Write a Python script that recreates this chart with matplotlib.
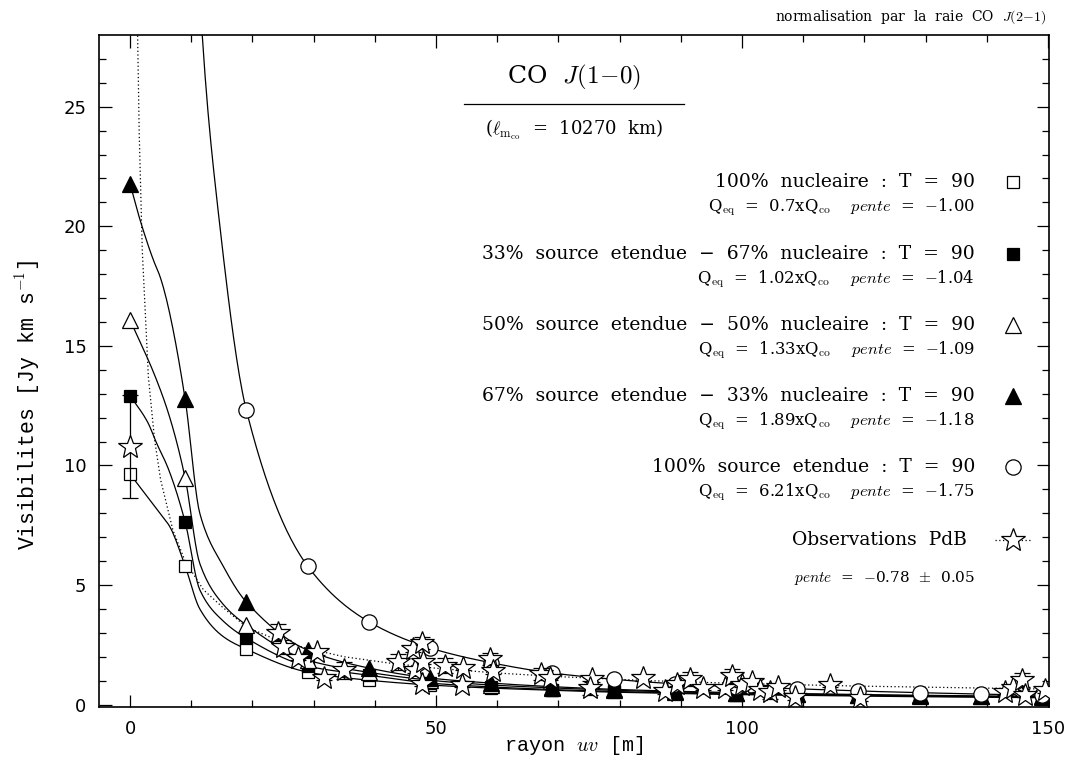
import numpy as np
import matplotlib.pyplot as plt

plt.rcParams['font.family'] = ['DejaVu Serif']
plt.rcParams['mathtext.fontset'] = 'cm'

# model points (markers), rayon uv in m, visibilities in Jy km/s
x_mod = [0, 9, 19, 29, 39, 49, 59, 69, 79, 89, 99, 109, 119, 129, 139, 149]
y_nuc100 = [9.64, 5.80, 2.32, 1.36, 1.02, 0.82, 0.69, 0.60, 0.52, 0.47, 0.42, 0.39, 0.36, 0.33, 0.31, 0.29]
y_ext33 = [12.92, 7.64, 2.78, 1.61, 1.23, 0.90, 0.74, 0.63, 0.55, 0.49, 0.44, 0.41, 0.38, 0.35, 0.33, 0.31]
y_ext50 = [16.09, 9.48, 3.33, 1.86, 1.35, 1.02, 0.82, 0.70, 0.60, 0.53, 0.48, 0.44, 0.40, 0.37, 0.34, 0.32]
y_ext67 = [21.78, 12.78, 4.29, 2.28, 1.53, 1.11, 0.90, 0.75, 0.64, 0.56, 0.50, 0.46, 0.42, 0.39, 0.36, 0.34]
x_ext100 = [9, 19, 29, 39, 49, 59, 69, 79, 89, 99, 109, 119, 129, 139, 149]
y_ext100 = [46.5, 12.32, 5.80, 3.47, 2.37, 1.75, 1.32, 1.06, 0.87, 0.75, 0.66, 0.57, 0.50, 0.44, 0.39]

# extra points (between markers)
cx_nuc100 = [4.9, 6.5, 11.4, 15.2]
cy_nuc100 = [8.0, 7.44, 4.0, 2.85]
cx_ext33 = [2.9, 4.4, 6.2, 11.4, 15.2]
cy_ext33 = [11.8, 10.9, 9.9, 4.8, 3.5]
cx_ext50 = [4.3, 6.5, 11.4, 15.2]
cy_ext50 = [13.6, 12.0, 5.9, 4.2]
cx_ext67 = [1.6, 3.8, 4.9, 6.0, 11.4, 15.2]
cy_ext67 = [20.3, 18.6, 17.9, 16.9, 8.0, 5.8]
cx_ext100 = [11.8, 14.2]
cy_ext100 = [28.0, 21.1]

# PdB observations
obs_x = [0, 24.2, 25.0, 27.5, 30.5, 31.7, 35.0, 43.8, 46.2, 47.7, 46.6, 47.9, 47.7, 51.5,
         54.4, 54.2, 58.8, 59.3, 67.2, 68.6, 75.5, 75.2, 83.8, 87.4, 89.4, 91.5, 93.6,
         97.2, 98.4, 100.0, 101.6, 103.0, 104.6, 105.9, 108.7, 114.4, 119.3, 143.0,
         144.3, 145.8, 146.3, 149.5]
obs_y = [10.78, 3.0, 2.4, 1.95, 2.18, 1.12, 1.44, 1.78, 2.32, 2.57, 1.44, 1.78, 0.86, 1.63,
         1.55, 0.84, 1.90, 1.40, 1.28, 1.13, 1.06, 0.69, 1.10, 0.56, 0.86, 1.06, 0.69,
         0.69, 1.20, 0.82, 0.94, 0.61, 0.52, 0.73, 0.31, 0.82, 0.27, 0.52,
         0.69, 1.03, 0.40, 0.60]
obs_err = [2.15, 0.35, 0.3, 0.1, 0.1, 0.1, 0.35, 0.35, 0.1, 0.25, 0.1, 0.1, 0.1, 0.3,
           0.1, 0.1, 0.25, 0.1, 0.25, 0.1, 0.1, 0.3, 0.1, 0.1, 0.1, 0.3, 0.1,
           0.1, 0.3, 0.1, 0.1, 0.1, 0.3, 0.1, 0.1, 0.1, 0.1, 0.1,
           0.1, 0.3, 0.1, 0.1]

# fitted power law (pente = -0.78)
fit_x = [1.2, 1.5, 2, 3, 4, 5, 7, 9, 12, 15, 19, 24, 29, 35, 42, 50, 60, 70, 85, 100, 120, 150]
fit_y = [28.6, 23.9, 19.0, 13.7, 11.1, 9.4, 7.3, 6.0, 4.8, 4.1, 3.25, 2.7, 2.35, 2.0, 1.75,
         1.52, 1.32, 1.17, 1.0, 0.88, 0.77, 0.65]


def smooth(x, y, n=600):
    # monotone cubic (pchip) through the points, for drawing only
    order = np.argsort(x)
    x = np.asarray(x, float)[order]
    y = np.asarray(y, float)[order]
    h = np.diff(x)
    d = np.diff(y) / h
    m = np.zeros_like(y)
    m[0], m[-1] = d[0], d[-1]
    for k in range(1, len(x) - 1):
        if d[k - 1] * d[k] > 0:
            w1 = 2 * h[k] + h[k - 1]
            w2 = h[k] + 2 * h[k - 1]
            m[k] = (w1 + w2) / (w1 / d[k - 1] + w2 / d[k])
    xs = np.linspace(x[0], x[-1], n)
    i = np.clip(np.searchsorted(x, xs) - 1, 0, len(h) - 1)
    t = (xs - x[i]) / h[i]
    ys = ((2 * t**3 - 3 * t**2 + 1) * y[i] + (t**3 - 2 * t**2 + t) * h[i] * m[i]
          + (-2 * t**3 + 3 * t**2) * y[i + 1] + (t**3 - t**2) * h[i] * m[i + 1])
    return xs, ys


W, H = 1073, 758
fig = plt.figure(figsize=(W / 100, H / 100), dpi=100)
ax = fig.add_axes([99 / W, 1 - 707 / H, 950 / W, 672 / H])


def fx(px, py):
    return px / W, 1 - py / H


models = [
    (x_mod, y_nuc100, cx_nuc100, cy_nuc100, 's', 'white', 9),
    (x_mod, y_ext33, cx_ext33, cy_ext33, 's', 'black', 9),
    (x_mod, y_ext50, cx_ext50, cy_ext50, '^', 'white', 11),
    (x_mod, y_ext67, cx_ext67, cy_ext67, '^', 'black', 11),
    (x_ext100, y_ext100, cx_ext100, cy_ext100, 'o', 'white', 11),
]
for xm, ym, cx, cy, mk, fc, ms in models:
    xs, ys = smooth(list(xm) + cx, list(ym) + cy)
    ax.plot(xs, ys, color='black', lw=0.9, zorder=2)
    ax.plot(xm, ym, ls='none', marker=mk, ms=ms, mfc=fc, mec='black', mew=0.9, zorder=3)

ax.plot(fit_x, fit_y, color='black', lw=0.9, ls=(0, (1, 2)), zorder=2)
ax.errorbar(obs_x, obs_y, yerr=obs_err, fmt='none', ecolor='black', elinewidth=0.9,
            capsize=6, capthick=0.9, zorder=4)
ax.plot(obs_x, obs_y, ls='none', marker='*', ms=18, mfc='white', mec='black', mew=0.9, zorder=5)

ax.set_xlim(-5.07, 150.16)
ax.set_ylim(-0.1, 28.0)
ax.set_xticks([0, 50, 100, 150])
ax.set_xticks(np.arange(0, 151, 10), minor=True)
ax.set_yticks([0, 5, 10, 15, 20, 25])
ax.set_yticks(np.arange(0, 28, 1), minor=True)
ax.tick_params(which='both', direction='in', top=True, right=True, width=0.9,
               labelsize=13, labelfontfamily='DejaVu Sans', pad=9)
ax.tick_params(which='major', length=9)
ax.tick_params(which='minor', length=5)
for s in ax.spines.values():
    s.set_linewidth(1.2)

ax.set_xlabel(r'rayon $uv$ [m]', fontsize=14.5, family='Liberation Mono', va='center')
ax.xaxis.set_label_coords(0.5, -0.057)
ax.set_ylabel(r'Visibilites [Jy km s$^{-1}$]', fontsize=15.5, family='Liberation Mono', va='center')
ax.yaxis.set_label_coords(-0.075, 0.45)

# title block
fig.text(*fx(574, 77), r'CO  $J(1\!-\!0)$', fontsize=18, ha='center', va='center')
fig.add_artist(plt.Line2D([464 / W, 684 / W], [1 - 104 / H, 1 - 104 / H], color='black', lw=0.9))
fig.text(*fx(574, 130), r'($\ell_{\rm m_{co}}$  =  10270  km)', fontsize=13, ha='center', va='center')
fig.text(*fx(1047, 17), r'normalisation  par  la  raie  CO  $J(2\!-\!1)$', fontsize=10,
         ha='right', va='center')

# legend block
entries = [
    ('100%  nucleaire  :  T  =  90', r'Q$_{\rm eq}$  =  0.7xQ$_{\rm co}$    $pente$  =  $-$1.00', 's', 'white', 9, 182),
    ('33%  source  etendue  \u2212  67%  nucleaire  :  T  =  90', r'Q$_{\rm eq}$  =  1.02xQ$_{\rm co}$    $pente$  =  $-$1.04', 's', 'black', 9, 254),
    ('50%  source  etendue  \u2212  50%  nucleaire  :  T  =  90', r'Q$_{\rm eq}$  =  1.33xQ$_{\rm co}$    $pente$  =  $-$1.09', '^', 'white', 11, 325),
    ('67%  source  etendue  \u2212  33%  nucleaire  :  T  =  90', r'Q$_{\rm eq}$  =  1.89xQ$_{\rm co}$    $pente$  =  $-$1.18', '^', 'black', 11, 396),
    ('100%  source  etendue  :  T  =  90', r'Q$_{\rm eq}$  =  6.21xQ$_{\rm co}$    $pente$  =  $-$1.75', 'o', 'white', 11, 467),
]
for main, sub, mk, fc, ms, py in entries:
    fig.text(*fx(975, py), main, fontsize=13.5, ha='right', va='center')
    fig.text(*fx(975, py + 25), sub, fontsize=11.8, ha='right', va='center')
    ax.plot([1013 / W], [1 - py / H], transform=fig.transFigure, clip_on=False,
            marker=mk, ms=ms, mfc=fc, mec='black', mew=0.9)

fig.text(*fx(967, 540), 'Observations  PdB', fontsize=13.5, ha='right', va='center')
ax.plot([995 / W, 1031 / W], [1 - 540 / H, 1 - 540 / H], transform=fig.transFigure,
        clip_on=False, color='black', lw=0.9, ls=(0, (1, 2)))
ax.plot([1013 / W], [1 - 540 / H], transform=fig.transFigure, clip_on=False,
        marker='*', ms=18, mfc='white', mec='black', mew=0.9)
fig.text(*fx(975, 578), r'$pente$  =  $-$0.78  $\pm$  0.05', fontsize=11, ha='right', va='center')

fig.savefig('out.png', dpi=100, facecolor='white')
